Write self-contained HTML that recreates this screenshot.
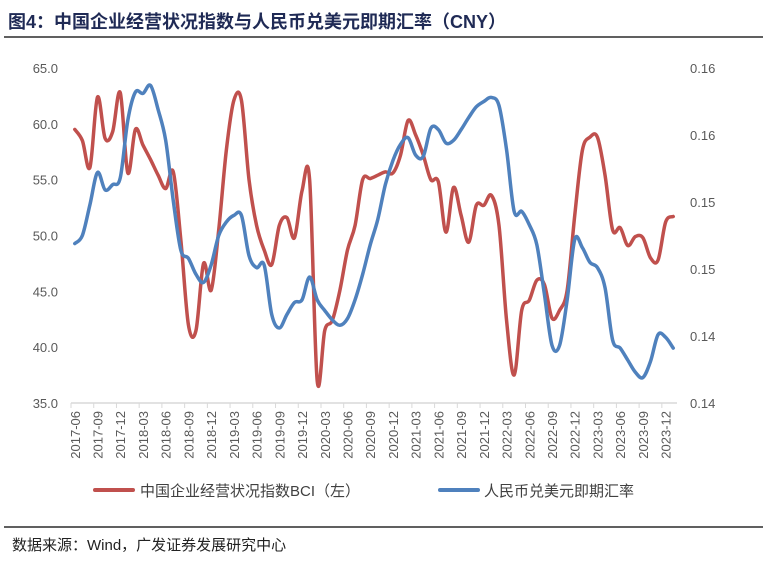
<!DOCTYPE html>
<html><head><meta charset="utf-8">
<style>
body{margin:0;background:#fff;}
svg{display:block;font-family:"Liberation Sans","Noto Sans CJK SC",sans-serif;}
</style></head>
<body>
<svg id="chart" width="763" height="563" viewBox="0 0 763 563">
<text x="8" y="28" font-size="18" font-weight="bold" fill="#1f2a55">图4：中国企业经营状况指数与人民币兑美元即期汇率（CNY）</text>
<line x1="4" y1="37" x2="763" y2="37" stroke="#000" stroke-width="1.3"/>
<g id="axes"></g>
<g id="series"></g>
<g>
 <line x1="95" y1="490" x2="133" y2="490" stroke="#c0504d" stroke-width="4" stroke-linecap="round"/>
 <text x="140" y="496" font-size="15" fill="#404040">中国企业经营状况指数BCI（左）</text>
 <line x1="440" y1="490" x2="478" y2="490" stroke="#4f81bd" stroke-width="4" stroke-linecap="round"/>
 <text x="484" y="496" font-size="15" fill="#404040">人民币兑美元即期汇率</text>
</g>
<line x1="4" y1="527" x2="763" y2="527" stroke="#000" stroke-width="1.3"/>
<text x="12" y="550" font-size="15" fill="#222">数据来源：Wind，广发证券发展研究中心</text>
</svg>
<script>
const bciValues=[59.5,58.5,56.1,62.4,58.7,59.3,62.8,55.6,59.5,58.1,56.8,55.4,54.2,55.7,49.6,42,41.5,47.5,45.1,50.5,57.6,62.1,62.1,55,50.9,48.7,47.4,50.9,51.6,49.8,54,55,37,41.5,42.4,45.1,48.7,50.9,55,55.1,55.4,55.7,55.6,57.2,60.3,59,57.2,55,54.8,50.3,54.3,51.8,49.4,52.7,52.7,53.6,50.9,42.4,37.5,43.3,44.2,46,45.6,42.6,43.3,45.1,51.8,57.6,58.8,58.8,55.4,50.5,50.7,49.1,49.9,49.8,48,47.8,51.2,51.7];
const cnyValues=[0.1519,0.1525,0.1548,0.1572,0.1559,0.1563,0.1568,0.1611,0.1632,0.1631,0.1637,0.1619,0.1596,0.1551,0.1514,0.1508,0.1496,0.149,0.1503,0.1525,0.1535,0.154,0.154,0.151,0.1501,0.1503,0.1466,0.1456,0.1466,0.1475,0.1477,0.1494,0.1477,0.1469,0.1462,0.1458,0.1463,0.1477,0.1496,0.1518,0.1537,0.1563,0.1581,0.1593,0.1598,0.1585,0.1584,0.1605,0.1604,0.1594,0.1596,0.1604,0.1613,0.1621,0.1625,0.1628,0.1622,0.1589,0.1543,0.1543,0.1533,0.1518,0.1481,0.1443,0.1443,0.1477,0.1522,0.1516,0.1505,0.1501,0.1486,0.1447,0.1441,0.1432,0.1423,0.1419,0.1431,0.1451,0.1449,0.1441];
const leftTicks=[35,40,45,50,55,60,65];
const leftTickLabels=["35.0","40.0","45.0","50.0","55.0","60.0","65.0"];
const rightTicks=[0.14,0.145,0.15,0.155,0.16,0.165];
const rightTickLabels=["0.14","0.14","0.15","0.15","0.16","0.16"];
const startYear=2017, startMonth=6;
const categories=[];
for(let i=0;i<bciValues.length;i++){const m=startMonth-1+i;categories.push((startYear+Math.floor(m/12))+"-"+String(m%12+1).padStart(2,"0"));}

const NS="http://www.w3.org/2000/svg";
const X0=71,X1=677,Y0=403,Y1=68;
const n=categories.length, step=(X1-X0)/n;
const xScale=i=>X0+step*(i+0.5);
const yLeft=v=>Y0-(v-35)/(65-35)*(Y0-Y1);
const yRight=v=>Y0-(v-0.14)/(0.165-0.14)*(Y0-Y1);
function mk(tag,attrs,parent){const e=document.createElementNS(NS,tag);for(const k in attrs)e.setAttribute(k,attrs[k]);parent.appendChild(e);return e;}
const axes=document.getElementById('axes'), series=document.getElementById('series');
leftTicks.forEach((t,i)=>{
  const e=mk('text',{x:58,y:yLeft(t)+5,'font-size':13,'text-anchor':'end',fill:'#595959'},axes);
  
  
  e.textContent=leftTickLabels[i];
});
rightTicks.forEach((t,i)=>{
  const e=mk('text',{x:690,y:yRight(t)+5,'font-size':13,fill:'#595959'},axes);
  
  
  e.textContent=rightTickLabels[i];
});
const ax=mk('line',{x1:X0,y1:Y0,x2:X1,y2:Y0,stroke:'#d9d9d9','stroke-width':1.5},axes);


for(let i=0;i<=n;i+=3){
  const tx=X0+step*i;
  const tk=mk('line',{x1:tx,y1:Y0,x2:tx,y2:Y0+5,stroke:'#d9d9d9','stroke-width':1},axes);
  
  
}
for(let i=0;i<n;i+=3){
  const cx=xScale(i)+5;
  const t=mk('text',{x:0,y:0,'font-size':13,'text-anchor':'end',fill:'#595959',transform:`translate(${cx},411) rotate(-90)`},axes);
  
  
  t.textContent=categories[i];
}
function smooth(pts){
  let d=`M${pts[0][0]},${pts[0][1]}`;
  for(let i=0;i<pts.length-1;i++){
    const p0=pts[Math.max(i-1,0)],p1=pts[i],p2=pts[i+1],p3=pts[Math.min(i+2,pts.length-1)];
    const t=0.5/3;
    d+=` C${p1[0]+(p2[0]-p0[0])*t},${p1[1]+(p2[1]-p0[1])*t} ${p2[0]-(p3[0]-p1[0])*t},${p2[1]-(p3[1]-p1[1])*t} ${p2[0]},${p2[1]}`;
  }
  return d;
}
const bci=mk('path',{d:smooth(bciValues.map((v,i)=>[xScale(i),yLeft(v)])),fill:'none',stroke:'#c0504d','stroke-width':3.5,'stroke-linejoin':'round','stroke-linecap':'round'},series);


const cny=mk('path',{d:smooth(cnyValues.map((v,i)=>[xScale(i),yRight(v)])),fill:'none',stroke:'#4f81bd','stroke-width':3.5,'stroke-linejoin':'round','stroke-linecap':'round'},series);


</script>
</body></html>
